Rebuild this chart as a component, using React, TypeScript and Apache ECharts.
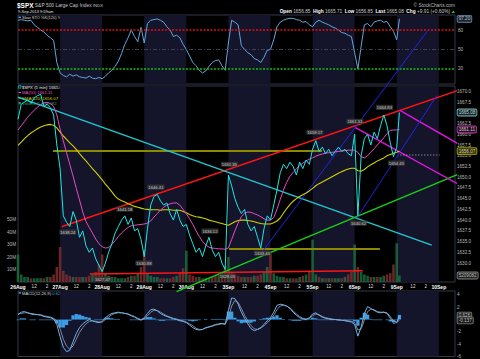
import React, { useEffect, useRef } from "react";
import * as echarts from "echarts";

const FONT = "'Liberation Sans', Arial, sans-serif";

const dayLabels = ["26Aug", "27Aug", "28Aug", "29Aug", "30Aug", "3Sep", "4Sep", "5Sep", "6Sep", "9Sep", "10Sep"];
const slotsPerDay = 13; // half-hour slots per session
const xMax = 135;
const shadedDays = [1, 3, 5, 7, 9];
const lastSlot = 117.83;

const closes = [
  1663.5, 1667.0, 1667.5, 1668.0, 1667.2, 1668.5, 1669.0, 1669.3, 1666.5, 1667.0, 1666.2, 1664.5, 1657.5,
  1652.0, 1641.0, 1639.5, 1638.5, 1642.0, 1640.0, 1636.0, 1637.5, 1634.0, 1632.5, 1633.5, 1631.0, 1629.5,
  1628.0, 1630.0, 1632.5, 1634.5, 1637.0, 1638.5, 1640.0, 1641.0, 1639.0, 1640.5, 1637.5, 1638.0, 1635.5,
  1631.5, 1638.0, 1643.5, 1645.5, 1646.0, 1644.5, 1643.5, 1644.0, 1641.5, 1640.0, 1642.5, 1640.0, 1638.5,
  1639.0, 1636.5, 1634.5, 1632.5, 1633.5, 1631.5, 1634.0, 1636.0, 1633.0, 1631.5, 1632.5, 1630.0, 1628.5,
  1650.5, 1648.0, 1645.0, 1643.0, 1641.5, 1642.5, 1639.0, 1637.5, 1638.5, 1636.0, 1633.5, 1638.0, 1641.0,
  1640.0, 1643.5, 1647.0, 1651.0, 1653.0, 1652.0, 1653.5, 1652.5, 1650.5, 1653.5, 1652.0, 1654.0, 1653.0,
  1656.5, 1658.5, 1656.0, 1657.0, 1655.5, 1656.5, 1655.0, 1656.0, 1657.0, 1656.0, 1656.5, 1655.5, 1655.0,
  1660.0, 1641.0, 1655.0, 1659.0, 1660.0, 1657.5, 1660.5, 1659.0, 1662.0, 1664.5, 1662.0, 1658.0, 1654.8,
  1657.0,
];
const lastClose = 1665.08;

const ma50 = [
  1661.0, 1662.0, 1663.0, 1664.0, 1664.8, 1665.6, 1666.3, 1666.9, 1667.3, 1667.4, 1667.2, 1666.5, 1664.5,
  1661.2, 1658.5, 1655.7, 1653.0, 1650.3, 1647.4, 1644.7, 1641.9, 1639.7, 1638.3, 1637.0, 1635.6, 1634.5,
  1633.8, 1633.5, 1633.6, 1634.3, 1635.2, 1636.2, 1637.0, 1637.7, 1638.3, 1638.7, 1638.8, 1638.9, 1639.0,
  1639.1, 1639.3, 1639.8, 1640.7, 1641.5, 1642.3, 1643.0, 1643.5, 1643.8, 1644.0, 1644.0, 1643.5, 1642.5,
  1641.5, 1640.3, 1639.0, 1637.5, 1636.2, 1635.0, 1634.2, 1633.7, 1633.5, 1633.4, 1633.3, 1633.3, 1633.2,
  1633.5, 1635.5, 1637.5, 1639.3, 1640.8, 1641.6, 1641.9, 1641.8, 1641.5, 1641.2, 1640.8, 1640.3, 1640.0,
  1640.0, 1640.6, 1642.5, 1644.8, 1647.0, 1648.8, 1650.2, 1651.1, 1652.0, 1652.7, 1653.3, 1653.8, 1654.2,
  1654.5, 1654.9, 1655.2, 1655.4, 1655.6, 1655.7, 1655.8, 1655.9, 1656.0, 1656.1, 1656.2, 1656.3, 1656.3,
  1656.3, 1655.8, 1654.8, 1654.5, 1655.0, 1655.8, 1656.6, 1657.5, 1658.3, 1659.2, 1660.2, 1660.9, 1661.0,
  1661.0,
];
const lastMa50 = 1661.11;

const ema120 = [
  1657.4, 1658.2, 1659.0, 1659.7, 1660.3, 1660.8, 1661.3, 1661.7, 1662.0, 1662.2, 1662.3, 1662.1, 1661.5,
  1660.5, 1659.6, 1658.8, 1658.0, 1657.3, 1656.5, 1655.5, 1654.6, 1653.8, 1652.9, 1652.0, 1651.2, 1650.3,
  1649.4, 1648.4, 1647.5, 1646.6, 1645.6, 1644.9, 1644.5, 1644.2, 1643.8, 1643.5, 1643.2, 1643.0, 1642.8,
  1642.6, 1642.5, 1642.4, 1642.4, 1642.4, 1642.3, 1642.4, 1642.4, 1642.4, 1642.3, 1642.3, 1642.3, 1642.0,
  1641.7, 1641.3, 1641.0, 1640.8, 1640.7, 1640.5, 1640.3, 1640.0, 1639.8, 1639.6, 1639.4, 1639.2, 1639.0,
  1638.8, 1639.2, 1639.6, 1639.9, 1640.0, 1640.0, 1639.9, 1639.8, 1639.6, 1639.4, 1639.2, 1639.1, 1639.1,
  1639.1, 1639.4, 1639.8, 1640.5, 1641.6, 1642.7, 1643.6, 1644.4, 1645.0, 1645.5, 1645.9, 1646.3, 1646.8,
  1647.4, 1648.0, 1648.5, 1648.9, 1649.3, 1649.7, 1650.1, 1650.5, 1650.9, 1651.3, 1651.6, 1651.9, 1652.1,
  1652.1, 1651.5, 1651.4, 1651.8, 1652.4, 1652.9, 1653.3, 1653.8, 1654.1, 1654.5, 1655.0, 1655.3, 1655.6,
  1655.8,
];
const lastEma120 = 1656.07;

const volumeM = [
  22, 6, 4, 4, 3, 3, 3, 3, 3, 4, 4, 6, 12,
  28, 9, 6, 5, 4, 4, 4, 4, 4, 5, 6, 8, 14,
  22, 7, 5, 4, 4, 3, 3, 3, 4, 5, 5, 7, 12,
  26, 7, 5, 4, 4, 3, 3, 3, 3, 4, 5, 7, 11,
  25, 6, 5, 4, 4, 3, 3, 3, 4, 5, 6, 8, 13,
  20, 8, 6, 5, 4, 4, 4, 4, 5, 5, 6, 8, 12,
  23, 7, 5, 4, 4, 3, 3, 3, 3, 4, 5, 6, 9,
  34, 6, 4, 3, 3, 3, 3, 3, 3, 3, 4, 6, 8,
  30, 12, 8, 6, 5, 4, 4, 4, 4, 5, 6, 7, 14,
  31,
];
const lastVolumeM = 5.209082;

const stoK = [
  95, 96, 95, 94, 95, 88, 84, 80, 77, 72, 68, 64, 30,
  14, 10, 8, 12, 9, 11, 8, 7, 6, 9, 6, 5, 7,
  5, 9, 14, 18, 24, 32, 44, 58, 68, 80, 70, 62, 84,
  60, 90, 95, 96, 97, 95, 92, 85, 80, 70, 72, 68, 58,
  50, 40, 30, 25, 18, 14, 17, 24, 30, 33, 34, 25, 18,
  60, 95, 92, 88, 56, 50, 45, 42, 36, 34, 30, 38, 49,
  50, 65, 85, 92, 95, 97, 98, 98, 96, 95, 92, 93, 88,
  85, 92, 95, 92, 90, 88, 85, 83, 80, 76, 75, 72, 70,
  45, 20, 55, 88, 90, 85, 92, 94, 95, 92, 93, 85, 78,
  65,
];
const lastStoK = 97.2;

const macdLine = [
  0.8, 1.2, 1.3, 1.1, 0.9, 0.8, 0.8, 0.7, 0.5, 0.4, 0.3, 0.1, -0.8,
  -2.8, -4.5, -5.2, -5.0, -3.6, -2.3, -1.3, -0.7, -0.3, 0.0, -0.2, -0.4, -0.5,
  -0.3, 0.3, 0.7, 1.0, 1.1, 1.2, 1.1, 1.0, 0.9, 0.6, 0.4, 0.1, -0.1,
  0.3, 1.0, 1.6, 1.7, 1.4, 1.0, 0.7, 0.5, 0.3, 0.1, 0.0, -0.2, -0.3,
  -0.5, -0.9, -1.3, -1.6, -1.7, -1.6, -1.3, -1.2, -1.0, -0.8, -0.7, -0.6, -0.8,
  1.5, 3.5, 3.4, 2.5, 1.2, 0.2, -0.7, -1.5, -1.8, -1.6, -1.3, -0.8, -0.2,
  0.3, 1.2, 2.3, 2.5, 2.4, 2.2, 1.8, 1.2, 0.7, 0.3, 0.1, 0.0, 0.3,
  0.9, 1.1, 0.7, 0.4, 0.2, 0.1, 0.0, 0.0, -0.1, -0.1, -0.2, -0.3, -0.4,
  -0.8, -2.7, -1.2, 1.0, 2.1, 1.8, 1.5, 1.2, 1.1, 1.2, 1.0, 0.2, -0.6,
  -0.5,
];
const lastMacd = 0.626;

const signalLine = [
  0.9, 1.0, 1.1, 1.1, 1.0, 0.9, 0.8, 0.8, 0.6, 0.5, 0.4, 0.2, -0.2,
  -1.5, -3.2, -4.3, -4.8, -4.3, -3.2, -2.1, -1.3, -0.7, -0.3, -0.2, -0.3, -0.4,
  -0.4, 0.0, 0.4, 0.8, 1.0, 1.1, 1.1, 1.0, 0.9, 0.7, 0.5, 0.2, 0.0,
  0.1, 0.6, 1.2, 1.5, 1.5, 1.2, 0.9, 0.6, 0.4, 0.2, 0.1, -0.1, -0.2,
  -0.4, -0.7, -1.0, -1.4, -1.6, -1.6, -1.4, -1.2, -1.1, -0.9, -0.8, -0.7, -0.7,
  0.2, 2.2, 3.1, 2.8, 1.8, 0.7, -0.2, -1.0, -1.5, -1.6, -1.4, -1.0, -0.5,
  0.0, 0.7, 1.6, 2.2, 2.3, 2.2, 1.9, 1.4, 0.9, 0.5, 0.2, 0.1, 0.2,
  0.6, 0.9, 0.8, 0.5, 0.3, 0.2, 0.1, 0.0, 0.0, -0.1, -0.1, -0.2, -0.3,
  -0.5, -1.7, -1.5, -0.1, 1.3, 1.7, 1.6, 1.3, 1.2, 1.2, 1.1, 0.5, -0.2,
  -0.4,
];
const lastSignal = -0.137;

// trend lines: [slot, price] end points
const redUpper = [[13.5, 1638.44], [139.6, 1671.16]];
const redLower = [[22.2, 1627.44], [106.5, 1628.2]];
const cyanDown = [[0, 1668.67], [127.8, 1634.19]];
const greenUp = [[49.0, 1623.33], [142.7, 1652.79]];
const magentaUpper = [[118.0, 1665.58], [142.7, 1654.88]];
const magentaLower = [[104.1, 1661.63], [142.7, 1645.58]];
const blueLeft = [[75.4, 1632.56], [126.6, 1684.2]];
const blueRight = [[104.7, 1640.47], [129.4, 1669.07]];
const oliveUpper = [[10.8, 1656.12], [93.9, 1656.12]];
const oliveLower = [[65.2, 1633.26], [111.8, 1633.26]];
const prevClose = [[118, 1655.17], [130.3, 1655.17]];

const annoText = ["1638.24", "1641.18", "1646.41", "1627.47", "1630.88", "1636.12", "1628.05", "1651.35", "1633.41", "1659.17", "1661.51", "1664.83", "1654.45", "1640.62"];
const annoAt = [
  [15.4, 1637.2], [33.0, 1642.56], [42.6, 1647.67], [26.1, 1626.28], [38.9, 1630.0], [59.3, 1637.44], [64.7, 1626.98],
  [65.3, 1653.02], [75.5, 1632.33], [91.7, 1660.47], [104.1, 1663.02], [113.2, 1666.28], [116.9, 1653.26], [105.2, 1639.3],
];

const pairs = (vals: number[], last: number) => [...vals.map((v, i) => [i, v]), [lastSlot, last]];
const isMult = (v: number, step: number) => Math.abs(v / step - Math.round(v / step)) < 1e-6;

export default function App() {
  const ref = useRef<HTMLDivElement>(null);
  useEffect(() => {
    if (!ref.current) return;
    const chart = echarts.init(ref.current, undefined, { renderer: "svg" });

    // price scale of the price grid (top 86, height 198.5, 1625..1671.25)
    const priceMin = 1625;
    const priceMax = 1671.25;
    const priceTop = 86;
    const priceH = 198.5;
    const volTop = 86;
    const volH = 196;
    const volMax = 156.8;
    const volBoxY = volTop + volH * (1 - lastVolumeM / volMax);
    const volBoxPrice = priceMax - ((volBoxY - priceTop) / priceH) * (priceMax - priceMin);
    const boxPrices = [lastClose, lastMa50, lastEma120];

    const bands = {
      silent: true,
      itemStyle: { color: "#14142a" },
      data: shadedDays.map((d) => [{ xAxis: d * slotsPerDay }, { xAxis: d * slotsPerDay + slotsPerDay }]),
    };

    const trend = (data: number[][], color: string, width: number, type: any = "solid") => ({
      type: "line",
      xAxisIndex: 1,
      yAxisIndex: 1,
      data,
      symbol: "none",
      clip: false,
      silent: true,
      z: 5,
      lineStyle: { color, width, type },
    });

    const box = (fg: string, border: string, bg: string) => ({
      show: true,
      position: "right",
      distance: 2,
      color: fg,
      fontSize: 4.6,
      fontFamily: FONT,
      backgroundColor: bg,
      borderColor: border,
      borderWidth: 0.8,
      borderRadius: 1,
      padding: [0.8, 1.2, 0.4, 1.2],
      formatter: (p: any) => p.data.txt,
    });

    const upColor = "rgba(30,120,70,0.75)";
    const downColor = "rgba(130,48,48,0.8)";
    const volData = [
      ...volumeM.map((v, i) => ({
        value: [i, v],
        itemStyle: { color: i > 0 && closes[i] < closes[i - 1] ? downColor : upColor },
      })),
      { value: [lastSlot, lastVolumeM], itemStyle: { color: upColor } },
    ];
    const hist = [...macdLine.map((m, i) => [i, m - signalLine[i]]), [lastSlot, lastMacd - lastSignal]];

    const axisX = (i: number) => ({
      type: "value",
      gridIndex: i,
      min: 0,
      max: xMax,
      interval: 1,
      position: i === 3 ? "top" : "bottom",
      axisLine: { show: false },
      axisTick: { show: false },
      splitLine: { show: false },
      axisLabel: {
        show: i === 3,
        margin: 2,
        showMaxLabel: false,
        fontFamily: FONT,
        formatter: (v: number) => {
          const k = Math.round(v);
          if (Math.abs(v - k) > 1e-6) return "";
          const d = Math.floor(k / slotsPerDay);
          const r = k % slotsPerDay;
          if (r === 0 && dayLabels[d]) return `{d|${dayLabels[d]}}`;
          if (r === 5) return "{t|12}";
          if (r === 9) return "{t|2}";
          return "";
        },
        rich: {
          d: { fontSize: 5, fontWeight: "bold", color: "#ffffff", fontFamily: FONT },
          t: { fontSize: 4.6, color: "#dddddd", fontFamily: FONT },
        },
      },
    });

    const labelStyle = { fontSize: 4.6, color: "#b8b8b8", fontFamily: FONT, margin: 2 };

    const gtext = (x: number, y: number, text: string, rich: any, align = "left") => ({
      type: "text",
      x,
      y,
      silent: true,
      style: { text, rich, align, verticalAlign: "middle", fontFamily: FONT, fontSize: 4.5, fill: "#ddd" },
    });

    const option: any = {
      backgroundColor: "#000000",
      animation: false,
      textStyle: { fontFamily: FONT },
      grid: [
        { left: 18, right: 25, top: 15, height: 69, show: true, borderColor: "#34384a", borderWidth: 1, backgroundColor: "transparent" },
        { left: 18, right: 25, top: priceTop, height: priceH, show: false },
        { left: 18, right: 25, top: volTop, height: volH, show: true, borderColor: "#34384a", borderWidth: 1, backgroundColor: "transparent" },
        { left: 18, right: 25, top: 291, height: 66.5, show: true, borderColor: "#34384a", borderWidth: 1, backgroundColor: "transparent" },
      ],
      xAxis: [axisX(0), axisX(1), axisX(2), axisX(3)],
      yAxis: [
        { type: "value", gridIndex: 0, min: -3.08, max: 103.08, show: false },
        {
          type: "value", gridIndex: 1, position: "right", min: priceMin, max: priceMax, interval: 2.5,
          axisLine: { show: false }, axisTick: { show: false }, splitLine: { show: false },
          axisLabel: {
            ...labelStyle,
            formatter: (v: number) => {
              if (!isMult(v, 2.5) || v < 1626 || v > 1671) return "";
              if (boxPrices.some((b) => Math.abs(b - v) < 0.6)) return "";
              if (Math.abs(volBoxPrice - v) < 1.2) return "";
              return v.toFixed(1);
            },
          },
        },
        {
          type: "value", gridIndex: 2, position: "left", min: 0, max: volMax, interval: 10,
          axisLine: { show: false }, axisTick: { show: false }, splitLine: { show: false },
          axisLabel: { ...labelStyle, formatter: (v: number) => (isMult(v, 10) && v >= 10 && v <= 50 ? `${v}M` : "") },
        },
        {
          type: "value", gridIndex: 3, position: "right", min: -6, max: 4.64, interval: 2,
          axisLine: { show: false }, axisTick: { show: false }, splitLine: { show: false },
          axisLabel: { ...labelStyle, formatter: (v: number) => (isMult(v, 2) && Math.abs(v) > 0.5 ? String(v) : "") },
        },
      ],
      series: [
        // STO panel
        {
          type: "line", xAxisIndex: 0, yAxisIndex: 0, data: pairs(stoK, lastStoK), symbol: "none", z: 4,
          lineStyle: { color: "#62a6de", width: 1 },
          markArea: bands,
          markLine: {
            silent: true,
            symbol: ["none", "none"],
            label: { show: true, position: "end", distance: 3, color: "#b8b8b8", fontSize: 4.6, fontFamily: FONT, formatter: (p: any) => String(p.value) },
            data: [
              { yAxis: 80, lineStyle: { color: "#e01010", width: 1.5, type: [2, 1.5] } },
              { yAxis: 50, lineStyle: { color: "#4a4e60", width: 0.8, type: [4, 2, 1, 2] } },
              { yAxis: 20, lineStyle: { color: "#10c010", width: 1.5, type: [2, 1.5] } },
            ],
          },
        },
        {
          type: "scatter", xAxisIndex: 0, yAxisIndex: 0, symbolSize: 1, itemStyle: { color: "transparent" }, z: 8,
          data: [{ value: [xMax, lastStoK], txt: lastStoK.toFixed(2) }],
          label: box("#e8e8e8", "#7fa8c8", "#1d2a38"),
        },
        // volume + bands in price panel
        {
          type: "bar", xAxisIndex: 2, yAxisIndex: 2, data: volData, barWidth: 2.6, z: 2,
          markArea: bands,
        },
        {
          type: "scatter", xAxisIndex: 2, yAxisIndex: 2, symbolSize: 1, itemStyle: { color: "transparent" }, z: 8,
          data: [{ value: [xMax, lastVolumeM], txt: String(Math.round(lastVolumeM * 1e6)) }],
          label: box("#e8e8e8", "#9a9a9a", "#202020"),
        },
        // trend lines
        trend(oliveUpper, "#8c8a00", 2),
        trend(oliveLower, "#8c8a00", 2),
        trend(redUpper, "#ff1414", 1.5),
        trend(redLower, "#ff1414", 1.5),
        trend(cyanDown, "#1ec8d2", 1.4),
        trend(greenUp, "#16d016", 1.4),
        trend(magentaUpper, "#e014e0", 1.4),
        trend(magentaLower, "#e014e0", 1.4),
        trend(blueLeft, "#2424ff", 0.9),
        trend(blueRight, "#2424ff", 0.9),
        trend(prevClose, "#b0b0b0", 0.7, [1.5, 1.5]),
        // price + averages
        {
          type: "line", xAxisIndex: 1, yAxisIndex: 1, data: pairs(ema120, lastEma120), symbol: "none", z: 6,
          lineStyle: { color: "#d2d000", width: 1.1 },
        },
        {
          type: "line", xAxisIndex: 1, yAxisIndex: 1, data: pairs(ma50, lastMa50), symbol: "none", z: 6,
          lineStyle: { color: "#e64bc8", width: 1 },
        },
        {
          type: "line", xAxisIndex: 1, yAxisIndex: 1, data: pairs(closes, lastClose), symbol: "none", z: 7,
          lineStyle: { color: "#1ee6e6", width: 1 },
        },
        {
          type: "scatter", xAxisIndex: 1, yAxisIndex: 1, symbolSize: 1, itemStyle: { color: "transparent" }, z: 9,
          data: annoText.map((t, i) => ({ value: annoAt[i], txt: t })),
          label: {
            show: true, position: "inside", color: "#e8e8e8", fontSize: 4.2, fontFamily: FONT,
            backgroundColor: "#3a3a3a", padding: [0.8, 1, 0.4, 1], borderRadius: 1,
            formatter: (p: any) => p.data.txt,
          },
        },
        {
          type: "scatter", xAxisIndex: 1, yAxisIndex: 1, symbolSize: 1, itemStyle: { color: "transparent" }, z: 9,
          data: [
            { value: [xMax, lastClose], txt: lastClose.toFixed(2), label: box("#ffffff", "#9adcdc", "#0e2a2e") },
            { value: [xMax, lastMa50], txt: lastMa50.toFixed(2), label: box("#ffffff", "#e64bc8", "#2a0e26") },
            { value: [xMax, lastEma120], txt: lastEma120.toFixed(2), label: box("#ffffff", "#c8c800", "#3a3a00") },
          ],
          label: box("#ffffff", "#9adcdc", "#0e2a2e"),
        },
        // MACD panel
        {
          type: "bar", xAxisIndex: 3, yAxisIndex: 3, data: hist, barWidth: 3.3, z: 3,
          itemStyle: { color: "#3a9de6" },
          markArea: bands,
        },
        {
          type: "line", xAxisIndex: 3, yAxisIndex: 3, data: pairs(signalLine, lastSignal), symbol: "none", z: 4,
          lineStyle: { color: "#8c96a8", width: 0.9 },
        },
        {
          type: "line", xAxisIndex: 3, yAxisIndex: 3, data: pairs(macdLine, lastMacd), symbol: "none", z: 5,
          lineStyle: { color: "#6fb2ea", width: 1 },
        },
        {
          type: "scatter", xAxisIndex: 3, yAxisIndex: 3, symbolSize: 1, itemStyle: { color: "transparent" }, z: 8,
          data: [
            { value: [xMax, lastMacd], txt: lastMacd.toFixed(3) },
            { value: [xMax, lastSignal], txt: lastSignal.toFixed(3) },
          ],
          label: box("#e8e8e8", "#9a9a9a", "#1a1a1a"),
        },
      ],
      graphic: [
        gtext(17, 5.5, "{a|$SPX} {b|S&P 500 Large Cap Index} {c|INDX}", {
          a: { fontSize: 6.5, fontWeight: "bold", fill: "#ffffff", fontFamily: FONT },
          b: { fontSize: 4.9, fill: "#c8c8c8", fontFamily: FONT },
          c: { fontSize: 4.2, fill: "#c8c8c8", fontFamily: FONT },
        }),
        gtext(18, 11, "{a|9-Sep-2013 9:59am}", { a: { fontSize: 4, fill: "#e0e0e0", fontFamily: FONT } }),
        gtext(455, 5.5, "{a|© StockCharts.com}", { a: { fontSize: 4.8, fill: "#b8b8b8", fontFamily: FONT } }, "right"),
        gtext(450, 11.5,
          "{l|Open} {v|1656.85}  {l|High} {v|1665.71}  {l|Low} {v|1656.85}  {l|Last} {v|1665.08}  {l|Chg} {v|+9.91 (+0.60%)}",
          {
            l: { fontSize: 4.8, fontWeight: "bold", fill: "#ffffff", fontFamily: FONT },
            v: { fontSize: 4.8, fill: "#c8c8c8", fontFamily: FONT },
          }, "right"),
        { type: "polygon", silent: true, shape: { points: [[451.5, 13], [455, 13], [453.25, 10.5]] }, style: { fill: "#20c020" } },
        // STO title
        { type: "rect", silent: true, shape: { x: 18.5, y: 16.6, width: 2.5, height: 1.4 }, style: { fill: "#62a6de" } },
        gtext(22, 17.3, "{w|Slow STO %K(120) %D(3)} {b|97.20}{w|, 94.46}", {
          w: { fontSize: 4, fill: "#d8d8d8", fontFamily: FONT },
          b: { fontSize: 4, fill: "#62a6de", fontFamily: FONT },
        }),
        // price legend
        { type: "rect", silent: true, shape: { x: 18.6, y: 85.6, width: 2.2, height: 2.6 }, style: { fill: "none", stroke: "#1ee6e6", lineWidth: 0.6 } },
        gtext(22, 87, "{a|$SPX (5 min) 1665.08}", { a: { fontSize: 4.3, fill: "#e8e8e8", fontFamily: FONT } }),
        { type: "rect", silent: true, shape: { x: 18.5, y: 92, width: 2.6, height: 1 }, style: { fill: "#e64bc8" } },
        gtext(22, 92.5, "{a|MA(50) 1661.11}", { a: { fontSize: 4.3, fill: "#e64bc8", fontFamily: FONT } }),
        { type: "rect", silent: true, shape: { x: 18.5, y: 97.5, width: 2.6, height: 1 }, style: { fill: "#d2d000" } },
        gtext(22, 98, "{a|EMA(120) 1656.07}", { a: { fontSize: 4.3, fill: "#d2d000", fontFamily: FONT } }),
        { type: "rect", silent: true, shape: { x: 18.6, y: 102, width: 2.2, height: 2.4 }, style: { fill: "#28965a" } },
        gtext(22, 103.3, "{a|Volume 5,209,082}", { a: { fontSize: 4.3, fill: "#2aa060", fontFamily: FONT } }),
        // MACD title
        { type: "rect", silent: true, shape: { x: 18.5, y: 292.3, width: 2.6, height: 1.2 }, style: { fill: "#6fb2ea" } },
        gtext(22, 293, "{w|MACD(12,26,9)} {b|0.626, -0.137, 0.763}", {
          w: { fontSize: 4.2, fill: "#d8d8d8", fontFamily: FONT },
          b: { fontSize: 4.2, fill: "#4aa6ec", fontFamily: FONT },
        }),
      ],
    };

    chart.setOption(option);
    return () => chart.dispose();
  }, []);

  return <div ref={ref} style={{ position: "fixed", left: 0, top: 0, width: 480, height: 359 }} />;
}
